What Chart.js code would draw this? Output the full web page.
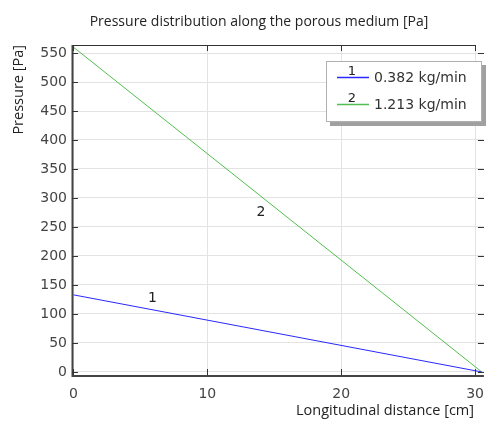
<!DOCTYPE html>
<html><head><meta charset="utf-8">
<script src="https://cdn.jsdelivr.net/npm/chart.js@4.4.0/dist/chart.umd.min.js"></script>
<style>html,body{margin:0;padding:0;background:#fff;}#c{display:block;}</style>
</head><body>
<canvas id="c" width="495" height="422"></canvas>
<script>
const distance = [0, 30.5];
const pressure1 = [133, 0];
const pressure2 = [560, 0];
const seriesNames = ['0.382 kg/min', '1.213 kg/min'];
const seriesColors = ['rgb(40,40,255)', 'rgb(80,190,80)'];
const xTicks = [0, 10, 20, 30];
const yTicks = [0, 50, 100, 150, 200, 250, 300, 350, 400, 450, 500, 550];
const titleText = 'Pressure distribution along the porous medium [Pa]';
const xTitle = 'Longitudinal distance [cm]';
const yTitle = 'Pressure [Pa]';
const lineLabels = [{t:'1', x:5.9, y:127}, {t:'2', x:14.0, y:276}];

const tickFont = {family:'DejaVu Sans', size:14};
const textFont = '"Open Sans", sans-serif';

const decor = {
  id:'decor',
  afterDraw(chart){
    const ctx = chart.ctx, a = chart.chartArea;
    const xs = chart.scales.x, ys = chart.scales.y;
    ctx.save();
    // border
    ctx.strokeStyle = '#333'; ctx.lineWidth = 1;
    ctx.beginPath();
    ctx.moveTo(a.left, Math.round(a.top)+0.5); ctx.lineTo(a.right-8, Math.round(a.top)+0.5);
    ctx.stroke();
    ctx.strokeStyle = '#444'; ctx.lineWidth = 2;
    ctx.beginPath();
    ctx.moveTo(a.left+0.5, a.top); ctx.lineTo(a.left+0.5, a.bottom+1);
    ctx.lineTo(a.right, a.bottom+1);
    ctx.stroke();
    ctx.lineWidth = 1; ctx.strokeStyle = '#333';
    // inward ticks
    ctx.beginPath();
    xTicks.forEach(v=>{
      const px = Math.round(xs.getPixelForValue(v))+0.5;
      ctx.moveTo(px, a.bottom); ctx.lineTo(px, a.bottom-6);
      ctx.moveTo(px, a.top); ctx.lineTo(px, a.top+6);
    });
    yTicks.forEach(v=>{
      const py = Math.round(ys.getPixelForValue(v))+0.5;
      ctx.moveTo(a.left, py); ctx.lineTo(a.left+6, py);
      ctx.moveTo(a.right, py); ctx.lineTo(a.right-6, py);
    });
    ctx.stroke();
    // title
    ctx.fillStyle = '#222';
    ctx.font = '14px ' + textFont;
    ctx.textAlign = 'center'; ctx.textBaseline = 'middle';
    ctx.fillText(titleText, 259, 22);
    // x title
    ctx.font = '14.5px ' + textFont;
    ctx.textAlign = 'right';
    ctx.fillText(xTitle, 474, 411);
    // y title
    ctx.save();
    ctx.translate(18.5, 45); ctx.rotate(-Math.PI/2);
    ctx.textAlign = 'right';
    ctx.font = '14.5px ' + textFont;
    ctx.fillText(yTitle, 0, 0);
    ctx.restore();
    // line labels
    ctx.font = '14px DejaVu Sans';
    ctx.textAlign = 'center';
    lineLabels.forEach(l=>{
      ctx.fillText(l.t, xs.getPixelForValue(l.x), ys.getPixelForValue(l.y));
    });
    // legend
    const bx = 326, by = 61, bw = 156, bh = 61;
    ctx.fillStyle = '#a0a0a0';
    ctx.fillRect(bx+4, by+4, bw, bh);
    ctx.fillStyle = '#fff';
    ctx.fillRect(bx, by, bw, bh);
    ctx.strokeStyle = '#b0b0b0';
    ctx.strokeRect(bx+0.5, by+0.5, bw-1, bh-1);
    const rows = [77, 104];
    seriesNames.forEach((n,i)=>{
      const yy = rows[i];
      ctx.strokeStyle = seriesColors[i]; ctx.lineWidth = 1.5;
      ctx.beginPath(); ctx.moveTo(337, yy+0.5); ctx.lineTo(369, yy+0.5); ctx.stroke();
      ctx.fillStyle = '#222';
      ctx.font = '13px DejaVu Sans';
      ctx.textAlign = 'center'; ctx.textBaseline = 'alphabetic';
      ctx.fillText(String(i+1), 352, yy-2);
      ctx.textAlign = 'left'; ctx.textBaseline = 'middle';
      ctx.font = '14px DejaVu Sans';
      ctx.fillStyle = '#333';
      ctx.fillText(n, 374, yy+1);
    });
    ctx.restore();
  }
};

new Chart(document.getElementById('c'), {
  type:'scatter',
  data:{
    datasets:[
      {label:seriesNames[0], data:distance.map((x,i)=>({x, y:pressure1[i]})), showLine:true, borderColor:seriesColors[0], borderWidth:1, pointRadius:0, fill:false},
      {label:seriesNames[1], data:distance.map((x,i)=>({x, y:pressure2[i]})), showLine:true, borderColor:seriesColors[1], borderWidth:1, pointRadius:0, fill:false}
    ]
  },
  options:{
    responsive:false, animation:false,
    layout:{padding:{top:45, right:0, left:0, bottom:0}},
    plugins:{legend:{display:false}, tooltip:{enabled:false}, title:{display:false}},
    scales:{
      x:{type:'linear', min:-0.11, max:30.66,
        afterBuildTicks(s){ s.ticks = xTicks.map(v=>({value:v})); },
        afterFit(s){ s.height = 47; },
        grid:{color:'#e3e3e3', drawTicks:false},
        border:{display:false},
        ticks:{font:tickFont, color:'#444', padding:11, maxRotation:0, callback:v=>String(v)}
      },
      y:{type:'linear', min:-5.2, max:563.8,
        afterBuildTicks(s){ s.ticks = yTicks.map(v=>({value:v})); },
        afterFit(s){ s.width = 72; },
        grid:{color:'#e3e3e3', drawTicks:false},
        border:{display:false},
        ticks:{font:tickFont, color:'#444', padding:5, callback:v=>String(v)}
      }
    }
  },
  plugins:[decor]
});
</script>
</body></html>
